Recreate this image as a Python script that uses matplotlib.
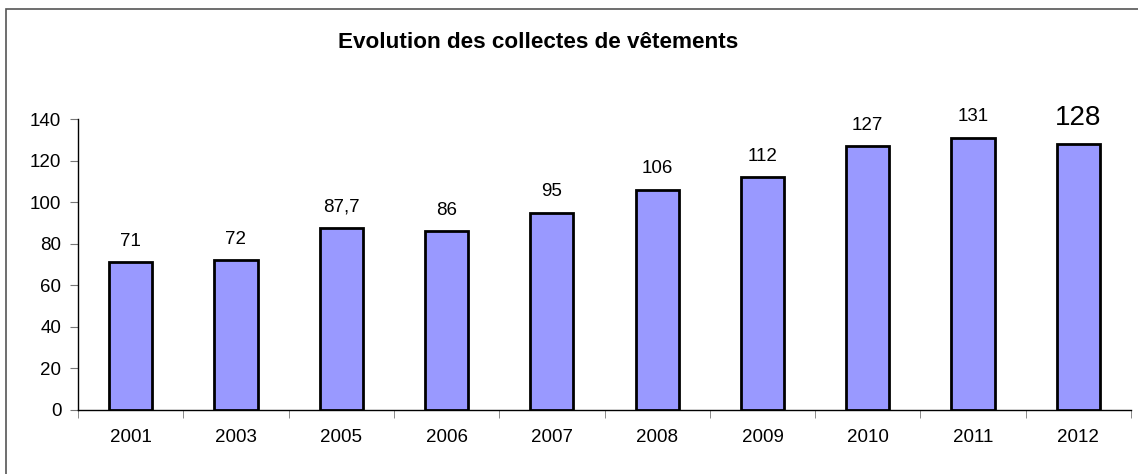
import matplotlib.pyplot as plt
import numpy as np
from matplotlib.patches import Rectangle

plt.rcParams['font.family'] = ['Liberation Sans', 'DejaVu Sans']

# data
years = ['2001', '2003', '2005', '2006', '2007', '2008', '2009', '2010', '2011', '2012']
values = [71, 72, 87.7, 86, 95, 106, 112, 127, 131, 128]
labels = ['71', '72', '87,7', '86', '95', '106', '112', '127', '131', '128']

W, H = 1138, 474
fig = plt.figure(figsize=(W / 100, H / 100), dpi=100)

# outer frame like the spreadsheet chart area
fig.patches.append(Rectangle((6 / W, -0.1), 1.2, (H - 9) / H + 0.1, transform=fig.transFigure,
                             fill=False, edgecolor='#555555', linewidth=1.2))

# axes placement in pixels
left, right, bottom, top = 78, 1131, 410, 119
ax = fig.add_axes([left / W, (H - bottom) / H, (right - left) / W, (bottom - top) / H])

x = np.arange(len(years))
ax.bar(x, values, width=0.41, color='#9999FF', edgecolor='black', linewidth=2, zorder=3)

ax.set_xlim(-0.5, len(years) - 0.5)
ax.set_ylim(0, 140)
ax.set_yticks(range(0, 141, 20))
ax.set_xticks(x)
ax.set_xticklabels(years)
ax.set_xticks(np.arange(-0.5, len(years), 1), minor=True)

for s in ['top', 'right']:
    ax.spines[s].set_visible(False)
for s in ['left', 'bottom']:
    ax.spines[s].set_linewidth(1)
    ax.spines[s].set_color('black')

ax.tick_params(axis='y', direction='out', length=6, color='#777777', labelsize=13.5, pad=6)
ax.tick_params(axis='x', which='major', length=0, labelsize=13.5, pad=14)
ax.tick_params(axis='x', which='minor', direction='out', length=6, color='#777777')

for i, (v, lab) in enumerate(zip(values, labels)):
    size = 20 if i == len(values) - 1 else 13.5
    ax.annotate(lab, (x[i], v), xytext=(0, 9), textcoords='offset points',
                ha='center', va='bottom', fontsize=size)

fig.text(538 / W, 1 - 42 / H, 'Evolution des collectes de vêtements',
         ha='center', va='center', fontsize=16.2, fontweight='bold')

fig.savefig('out.png', dpi=100)
